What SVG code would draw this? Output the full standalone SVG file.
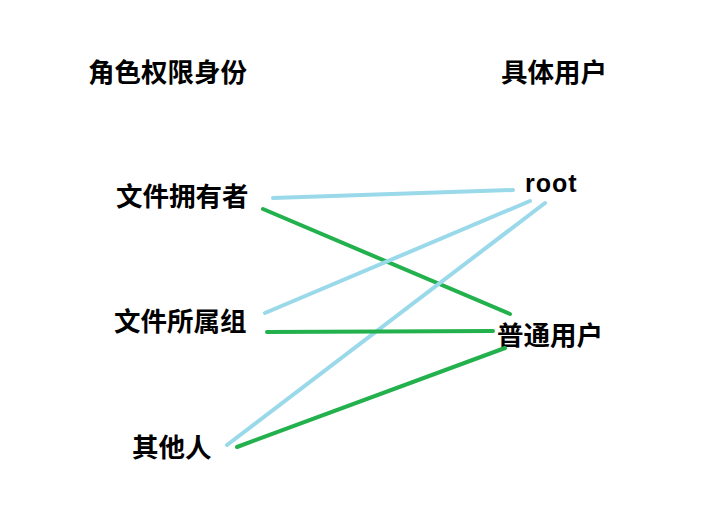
<svg xmlns="http://www.w3.org/2000/svg" width="710" height="514" viewBox="0 0 710 514">
<style>
text{font-family:"Noto Sans CJK SC","Liberation Sans",sans-serif;font-weight:bold;fill:#000;font-size:26.5px}
.b{stroke:#99d9ea;stroke-width:4;stroke-linecap:round;fill:none}
.g{stroke:#22b14c;stroke-width:4;stroke-linecap:round;fill:none}
</style>
<rect width="710" height="514" fill="#fff"/>
<g id="head-left"><text x="88" y="82">角色权限身份</text></g>
<g id="head-right"><text x="501" y="82">具体用户</text></g>
<g id="owner"><text x="116" y="206">文件拥有者</text></g>
<g id="group"><text x="114" y="331">文件所属组</text></g>
<g id="others"><text x="132" y="457">其他人</text></g>
<g id="root"><text x="525" y="192" style="font-family:'Liberation Sans',sans-serif;font-size:25px;letter-spacing:1px">root</text></g>
<g id="normal"><text x="497" y="345">普通用户</text></g>
<g id="connectors">
<line class="b" x1="273" y1="198" x2="513" y2="190"/>
<line class="g" x1="263" y1="209" x2="510" y2="314"/>
<line class="b" x1="530" y1="201" x2="265" y2="313"/>
<line class="b" x1="545" y1="203" x2="227" y2="445"/>
<line class="g" x1="267" y1="332" x2="493" y2="331"/>
<line class="g" x1="237" y1="447" x2="505" y2="348"/>
</g>
</svg>
